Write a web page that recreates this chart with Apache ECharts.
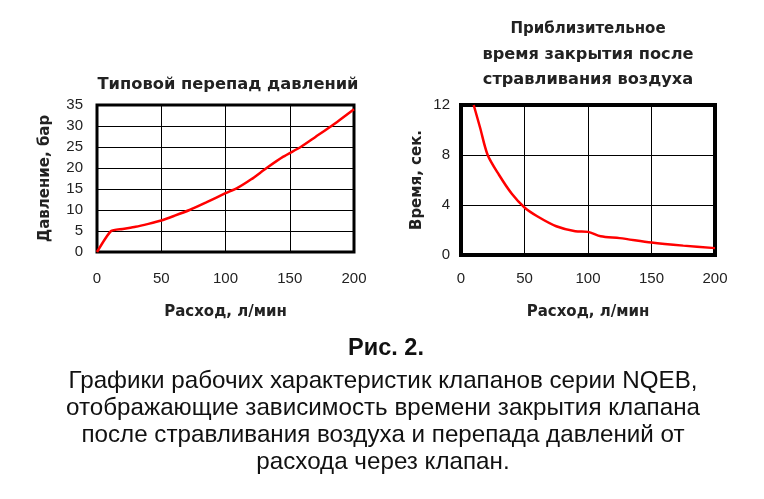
<!DOCTYPE html>
<html><head><meta charset="utf-8">
<script src="https://cdn.jsdelivr.net/npm/echarts@6/dist/echarts.min.js"></script>
<style>html,body{margin:0;padding:0;background:#fff}#c{width:764px;height:499px}</style>
</head><body><div id="c"></div>
<script>
// Left chart: typical pressure drop
const pressureFlow   = [0, 11, 20, 30, 40, 50, 60, 72, 85, 100, 109, 120, 132, 145, 158.5, 170, 182.5, 200];
const pressureValues = [0, 5, 5.5, 6, 6.7, 7.5, 8.6, 10, 11.8, 14, 15.2, 17.3, 20, 22.7, 25, 27.4, 30, 34];
// Right chart: approximate closing time
const timeFlow   = [10, 15, 21, 30, 40, 50, 60, 75, 90, 100, 110, 125, 150, 175, 200];
const timeValues = [12, 10.2, 8, 6.4, 4.9, 3.8, 3.1, 2.3, 1.9, 1.85, 1.5, 1.35, 1.0, 0.75, 0.55];

const xTicks = [0, 50, 100, 150, 200];
const pressureTicks = [0, 5, 10, 15, 20, 25, 30, 35];
const timeTicks = [0, 4, 8, 12];

const leftTitle = 'Типовой перепад давлений';
const rightTitle = ['Приблизительное', 'время закрытия после', 'стравливания воздуха'];
const xName = 'Расход, л/мин';
const leftYName = 'Давление, бар';
const rightYName = 'Время, сек.';
const captionHead = 'Рис. 2.';
const captionLines = [
  'Графики рабочих характеристик клапанов серии NQEB,',
  'отображающие зависимость времени закрытия клапана',
  'после стравливания воздуха и перепада давлений от',
  'расхода через клапан.'
];

const zip = (a, b) => a.map((v, i) => [v, b[i]]);
const boldFont = 'DejaVu Sans';
const tickFont = 'Liberation Sans';

function xAxis(gridIndex, margin, gap) {
  return {
    type: 'value', gridIndex, min: 0, max: 200, interval: 50,
    name: xName, nameLocation: 'middle', nameGap: gap,
    nameTextStyle: { fontFamily: boldFont, fontWeight: 'bold', fontSize: 15, color: '#222' },
    axisLine: { show: false }, axisTick: { show: false },
    axisLabel: { margin, fontFamily: tickFont, fontSize: 15, color: '#222' },
    splitLine: { show: true, lineStyle: { color: '#000', width: 1 } }
  };
}
function yAxis(gridIndex, max, interval, name, gap, margin) {
  return {
    type: 'value', gridIndex, min: 0, max, interval,
    name, nameLocation: 'middle', nameGap: gap, nameRotate: 90,
    nameTextStyle: { fontFamily: boldFont, fontWeight: 'bold', fontSize: 15, color: '#222' },
    axisLine: { show: false }, axisTick: { show: false },
    axisLabel: { margin, fontFamily: tickFont, fontSize: 15, color: '#222' },
    splitLine: { show: true, lineStyle: { color: '#000', width: 1 } }
  };
}

const graphics = [
  { type: 'text', x: 228, y: 85, style: { text: leftTitle, font: 'bold 16.3px "DejaVu Sans"', fill: '#222', textAlign: 'center', textVerticalAlign: 'middle' } },
  { type: 'text', x: 386, y: 349, style: { text: captionHead, font: 'bold 23.5px "Liberation Sans"', fill: '#111', textAlign: 'center', textVerticalAlign: 'middle' } }
];
const rightTitleSizes = [15, 16.2, 16.2];
rightTitle.forEach((t, i) => graphics.push({ type: 'text', x: 588, y: 29 + i * 25.5, style: { text: t, font: 'bold ' + rightTitleSizes[i] + 'px "DejaVu Sans"', fill: '#222', textAlign: 'center', textVerticalAlign: 'middle' } }));
captionLines.forEach((t, i) => graphics.push({ type: 'text', x: 383, y: 381 + i * 27, style: { text: t, font: '24.2px "Liberation Sans"', fill: '#111', textAlign: 'center', textVerticalAlign: 'middle' } }));

const chart = echarts.init(document.getElementById('c'));
chart.setOption({
  animation: false,
  backgroundColor: '#fff',
  grid: [
    { left: 97, top: 105, width: 257, height: 147, show: true, borderColor: '#000', borderWidth: 3, backgroundColor: 'transparent', z: 3 },
    { left: 461, top: 105, width: 254, height: 150, show: true, borderColor: '#000', borderWidth: 4, backgroundColor: 'transparent', z: 3 }
  ],
  xAxis: [xAxis(0, 19, 53), xAxis(1, 16, 50)],
  yAxis: [yAxis(0, 35, 5, leftYName, 44, 14), yAxis(1, 12, 4, rightYName, 36, 11)],
  series: [
    { type: 'line', xAxisIndex: 0, yAxisIndex: 0, data: zip(pressureFlow, pressureValues), smooth: 0.2, showSymbol: false, lineStyle: { color: '#f00', width: 2.5 }, z: 5 },
    { type: 'line', xAxisIndex: 1, yAxisIndex: 1, data: zip(timeFlow, timeValues), smooth: 0.3, showSymbol: false, lineStyle: { color: '#f00', width: 2.5 }, z: 5 }
  ],
  graphic: graphics
});
</script>
</body></html>
